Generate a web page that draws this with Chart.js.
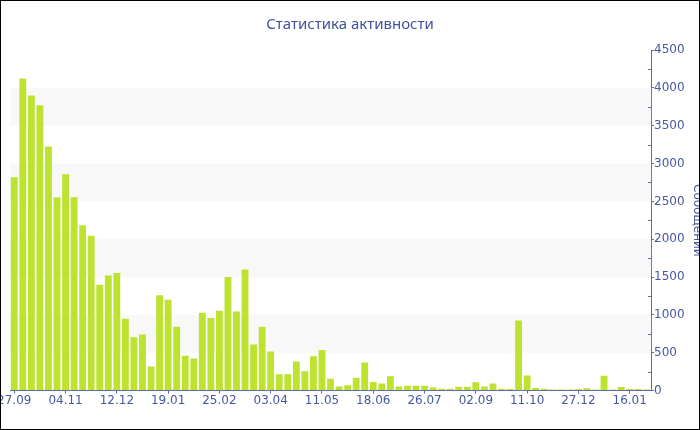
<!DOCTYPE html>
<html lang="ru">
<head>
    <meta charset="utf-8">
    <title>Статистика активности</title>
    <script src="https://cdn.jsdelivr.net/npm/chart.js"></script>
    <style>
        body {
            margin: 0;
            background: #fff;
        }

        .wrap {
            position: relative;
            width: 700px;
            height: 430px;
        }

        .frame {
            position: absolute;
            left: 0;
            top: 0;
            width: 700px;
            height: 430px;
            box-sizing: border-box;
            border: 1px solid #000;
            pointer-events: none;
        }
    </style>
</head>
<body>
<div class="wrap">
    <canvas id="activityChart" width="700" height="430"></canvas>
    <div class="frame"></div>
</div>

<script>
    // недели (подписи по оси X)
    const weeks = [
        '27.09', '03.10', '09.10', '16.10', '22.10', '28.10',
        '04.11', '10.11', '16.11', '23.11', '29.11', '05.12',
        '12.12', '18.12', '24.12', '31.12', '06.01', '12.01',
        '19.01', '25.01', '31.01', '06.02', '12.02', '18.02',
        '25.02', '03.03', '09.03', '15.03', '21.03', '27.03',
        '03.04', '09.04', '15.04', '22.04', '28.04', '04.05',
        '11.05', '17.05', '23.05', '30.05', '05.06', '11.06',
        '18.06', '24.06', '30.06', '07.07', '13.07', '19.07',
        '26.07', '01.08', '07.08', '14.08', '20.08', '26.08',
        '02.09', '08.09', '15.09', '21.09', '27.09', '04.10',
        '11.10', '24.10', '07.11', '20.11', '04.12', '17.12',
        '27.12', '30.12', '03.01', '06.01', '09.01', '13.01',
        '16.01', '19.01', '23.01'
    ];

    // количество сообщений за неделю
    const messages = [
        2820, 4125, 3900, 3770, 3225, 2550,
        2860, 2555, 2185, 2045, 1400, 1520,
        1555, 950, 705, 740, 320, 1260,
        1200, 845, 460, 425, 1030, 960,
        1055, 1500, 1045, 1600, 610, 845,
        515, 215, 215, 385, 255, 455,
        535, 155, 55, 70, 170, 370,
        115, 95, 190, 55, 65, 65,
        65, 40, 25, 25, 50, 50,
        110, 55, 95, 25, 20, 925,
        200, 35, 25, 14, 14, 14,
        20, 30, 14, 195, 14, 48,
        22, 22, 14
    ];

    // полосы фона
    const bands = [[500, 1000], [1500, 2000], [2500, 3000], [3500, 4000]];

    const textColor = '#4658a0';
    const axisColor = '#5c6eb0';

    // фон полосами + мелкие засечки внутрь
    const bandsPlugin = {
        id: 'bands',
        beforeDatasetsDraw(chart) {
            const {ctx, chartArea, scales} = chart;
            const y = scales.y;
            ctx.save();
            ctx.fillStyle = '#f8f8f8';
            bands.forEach(b => {
                const top = y.getPixelForValue(b[1]);
                const bottom = y.getPixelForValue(b[0]);
                ctx.fillRect(chartArea.left, top, chartArea.right - chartArea.left, bottom - top);
            });
            ctx.restore();
        },
        afterDraw(chart) {
            const {ctx, chartArea, scales} = chart;
            const y = scales.y;
            ctx.save();
            ctx.strokeStyle = axisColor;
            ctx.lineWidth = 1;
            for (let v = 250; v < 4500; v += 500) {
                const py = Math.round(y.getPixelForValue(v)) + 0.5;
                ctx.beginPath();
                ctx.moveTo(chartArea.right - 3, py);
                ctx.lineTo(chartArea.right, py);
                ctx.stroke();
            }
            ctx.restore();
        }
    };

    new Chart(document.getElementById('activityChart'), {
        type: 'bar',
        data: {
            labels: weeks,
            datasets: [{
                label: 'Сообщений',
                data: messages,
                backgroundColor: '#bde22f',
                borderWidth: 0,
                barPercentage: 0.8,
                categoryPercentage: 1.0
            }]
        },
        options: {
            responsive: false,
            animation: false,
            layout: {
                // симметрично, чтобы заголовок был по центру холста
                padding: {left: -6, right: -6, top: 0, bottom: 22}
            },
            plugins: {
                legend: {display: false},
                tooltip: {enabled: false},
                title: {
                    display: true,
                    text: 'Статистика активности',
                    color: '#3f52a0',
                    font: {family: 'Noto Sans', size: 15, weight: 'normal'},
                    padding: {top: 16, bottom: 16}
                }
            },
            scales: {
                x: {
                    offset: true,
                    afterFit(scale) {
                        // левый отступ области графика, первая подпись обрезается краем
                        scale.paddingLeft = 10;
                        scale.paddingRight = 0;
                    },
                    grid: {
                        offset: false,
                        drawOnChartArea: false,
                        tickLength: 3,
                        tickColor: c => (c.index % 6 === 0 ? axisColor : 'rgba(0,0,0,0)')
                    },
                    border: {color: axisColor},
                    ticks: {
                        autoSkip: false,
                        maxRotation: 0,
                        padding: 0,
                        color: textColor,
                        font: {family: 'DejaVu Sans', size: 12},
                        callback: function (value, index) {
                            return index % 6 === 0 ? this.getLabelForValue(value) : '';
                        }
                    }
                },
                y: {
                    position: 'right',
                    min: 0,
                    max: 4500,
                    grid: {
                        drawOnChartArea: false,
                        tickLength: 3,
                        tickColor: axisColor
                    },
                    border: {color: axisColor},
                    ticks: {
                        stepSize: 500,
                        padding: 0,
                        color: textColor,
                        font: {family: 'DejaVu Sans', size: 12},
                        callback: value => String(value)
                    },
                    title: {
                        display: true,
                        text: 'Сообщений',
                        color: textColor,
                        font: {family: 'DejaVu Sans', size: 12},
                        padding: {top: 2, bottom: 5}
                    }
                }
            }
        },
        plugins: [bandsPlugin]
    });
</script>
</body>
</html>
